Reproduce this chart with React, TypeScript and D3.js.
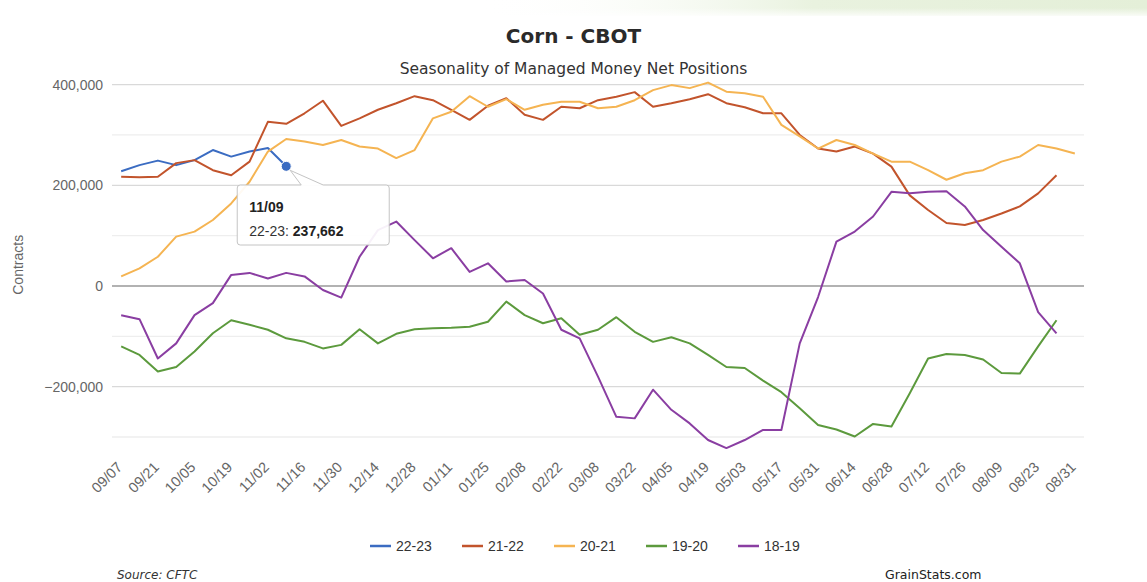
import React from "react"
import * as d3 from "d3"

// weekly categories, 09/07 .. 08/31
const categories = [
  "09/07", "09/14", "09/21", "09/28", "10/05", "10/12", "10/19", "10/26",
  "11/02", "11/09", "11/16", "11/23", "11/30", "12/07", "12/14", "12/21",
  "12/28", "01/04", "01/11", "01/18", "01/25", "02/01", "02/08", "02/15",
  "02/22", "03/01", "03/08", "03/15", "03/22", "03/29", "04/05", "04/12",
  "04/19", "04/26", "05/03", "05/10", "05/17", "05/24", "05/31", "06/07",
  "06/14", "06/21", "06/28", "07/05", "07/12", "07/19", "07/26", "08/02",
  "08/09", "08/16", "08/23", "08/30", "08/31",
]

// values in thousands of contracts
const s2223 = [228, 240, 249, 240, 250, 270, 257, 267, 274, 237.662]
const s2122 = [
  217, 216, 217, 244, 250, 230, 220, 247, 326, 322, 343, 368, 318, 333, 350, 363,
  377, 369, 350, 330, 358, 373, 340, 330, 356, 353, 369, 376, 385, 356, 363, 371,
  381, 363, 355, 343, 343, 300, 273, 267, 277, 263, 237, 180, 151, 125, 121, 131,
  144, 158, 184, 220,
]
const s2021 = [
  19, 35, 58, 98, 108, 131, 164, 207, 267, 292, 287, 280, 290, 277, 273, 254,
  270, 333, 346, 377, 356, 371, 350, 360, 366, 366, 353, 356, 369, 389, 399, 393,
  404, 386, 383, 376, 320, 297, 273, 290, 280, 263, 247, 247, 230, 211, 224, 230,
  247, 257, 280, 273, 263,
]
const s1920 = [
  -120, -137, -170, -161, -130, -94, -68, -77, -87, -104, -111, -124, -117, -86, -114, -95,
  -86, -84, -83, -81, -71, -31, -58, -74, -64, -97, -87, -62, -91, -111, -102, -114,
  -137, -161, -163, -188, -211, -243, -276, -285, -299, -274, -279, -213, -144, -135, -137, -146,
  -173, -174, -120, -68,
]
const s1819 = [
  -58, -66, -144, -114, -58, -34, 22, 26, 15, 26, 19, -8, -23, 58, 111, 128,
  91, 55, 75, 28, 45, 9, 12, -15, -87, -104, -180, -260, -263, -206, -246, -273,
  -306, -322, -306, -286, -286, -114, -22, 88, 108, 138, 187, 184, 187, 188, 158, 111,
  78, 45, -52, -94,
]

const seriesNames = ["22-23", "21-22", "20-21", "19-20", "18-19"]
const seriesColors = ["#3b6cc2", "#c2542c", "#f5b452", "#5c9a3d", "#8a3ea2"]
const seriesValues = [s2223, s2122, s2021, s1920, s1819]

const yTicks = [-300000, -200000, -100000, 0, 100000, 200000, 300000, 400000]

const W = 1147
const H = 582
const plot = { left: 112, right: 1084, top: 84.6, bottom: 437 }

export default function App() {
  const x = d3.scalePoint<string>()
    .domain(categories)
    .range([plot.left, plot.right])
    .padding(0.5)
  const y = d3.scaleLinear().domain([-300000, 400000]).range([plot.bottom, plot.top])

  const series = seriesNames.map((name, i) => ({
    name,
    color: seriesColors[i],
    data: seriesValues[i].map((v, j) => ({ cat: categories[j], value: v * 1000 })),
  }))

  const line = d3.line<{ cat: string; value: number }>()
    .x(d => x(d.cat) as number)
    .y(d => y(d.value))

  const fmt = d3.format(",")
  const labelCats = categories.filter((_, i) => i % 2 === 0)

  // tooltip on the last 22-23 point
  const tipSeries = series[0]
  const tipPoint = tipSeries.data[tipSeries.data.length - 1]
  const px = x(tipPoint.cat) as number
  const py = y(tipPoint.value)
  const bx = px - 49, by = 185, bw = 152, bh = 60

  // legend
  const itemW = 92
  const legendStart = 370

  return (
    <div style={{ position: "absolute", left: 0, top: 0 }}>
      <svg width={W} height={H} style={{ display: "block", background: "#fff" }}>
        <defs>
          <linearGradient id="topband" x1="0" x2="1" y1="0" y2="0">
            <stop offset="0" stopColor="#ffffff" stopOpacity={0} />
            <stop offset="0.5" stopColor="#e9f2df" />
            <stop offset="1" stopColor="#e4efd8" />
          </linearGradient>
          <linearGradient id="topfade" x1="0" x2="0" y1="0" y2="1">
            <stop offset="0" stopColor="#fff" stopOpacity={0} />
            <stop offset="1" stopColor="#fff" stopOpacity={1} />
          </linearGradient>
        </defs>
        <rect x={480} y={0} width={W - 480} height={16} fill="url(#topband)" />
        <rect x={480} y={8} width={W - 480} height={10} fill="url(#topfade)" />

        <text x={W / 2} y={43} textAnchor="middle" fontFamily="DejaVu Sans" fontWeight="bold" fontSize={20} fill="#2a2a2a">
          Corn - CBOT
        </text>
        <text x={W / 2} y={74} textAnchor="middle" fontFamily="DejaVu Sans" fontSize={15.5} fill="#333">
          Seasonality of Managed Money Net Positions
        </text>

        {/* grid */}
        {yTicks.map(t => (
          <line
            key={t}
            x1={plot.left}
            x2={plot.right}
            y1={y(t)}
            y2={y(t)}
            stroke={t === 0 ? "#999" : t % 200000 === 0 ? "#d9d9d9" : "#eeeeee"}
            strokeWidth={t === 0 ? 1.5 : 1.3}
          />
        ))}
        {yTicks.filter(t => t % 200000 === 0).map(t => (
          <text
            key={t}
            x={103}
            y={y(t) + 5}
            textAnchor="end"
            fontFamily="Liberation Sans"
            fontSize={14}
            fill="#666"
          >
            {fmt(t)}
          </text>
        ))}
        <text
          transform={`translate(23,${(plot.top + plot.bottom) / 2 + 4}) rotate(-90)`}
          textAnchor="middle"
          fontFamily="Liberation Sans"
          fontSize={14}
          fill="#666"
        >
          Contracts
        </text>

        {/* x labels */}
        {labelCats.map(c => {
          const lx = (x(c) as number) + 2
          const ly = 468
          return (
            <text
              key={c}
              x={lx}
              y={ly}
              transform={`rotate(-45,${lx},${ly})`}
              textAnchor="end"
              fontFamily="Liberation Sans"
              fontSize={14.5}
              fill="#666"
            >
              {c}
            </text>
          )
        })}

        {/* lines */}
        {series.map(s => (
          <path
            key={s.name}
            d={line(s.data) || ""}
            fill="none"
            stroke={s.color}
            strokeWidth={2}
            strokeLinejoin="round"
          />
        ))}

        {/* hovered point + tooltip */}
        <circle cx={px} cy={py} r={5} fill={tipSeries.color} stroke="#fff" strokeWidth={1} />
        <path
          d={`M${bx + 3},${by} L${px + 15},${by} L${px + 4},${py + 4} L${px + 37},${by} L${bx + bw - 3},${by}
            Q${bx + bw},${by} ${bx + bw},${by + 3} L${bx + bw},${by + bh - 3} Q${bx + bw},${by + bh} ${bx + bw - 3},${by + bh}
            L${bx + 3},${by + bh} Q${bx},${by + bh} ${bx},${by + bh - 3} L${bx},${by + 3} Q${bx},${by} ${bx + 3},${by} Z`}
          fill="#fff"
          fillOpacity={0.93}
          stroke="#c4c4c4"
          strokeWidth={1}
        />
        <text x={bx + 12} y={by + 27} fontFamily="Liberation Sans" fontSize={14} fontWeight="bold" fill="#222">
          {tipPoint.cat}
        </text>
        <text x={bx + 12} y={by + 51} fontFamily="Liberation Sans" fontSize={14} fill="#333">
          {tipSeries.name}: <tspan fontWeight="bold" fill="#222">{fmt(Math.round(tipPoint.value))}</tspan>
        </text>

        {/* legend */}
        {series.map((s, i) => {
          const lx = legendStart + i * itemW
          return (
            <g key={s.name}>
              <line x1={lx} x2={lx + 21} y1={546} y2={546} stroke={s.color} strokeWidth={2.5} />
              <text x={lx + 26} y={551} fontFamily="Liberation Sans" fontSize={14} fill="#333">
                {s.name}
              </text>
            </g>
          )
        })}

        <text x={117} y={579} fontFamily="DejaVu Sans" fontStyle="italic" fontSize={12} fill="#333">
          Source: CFTC
        </text>
        <text x={885} y={579} fontFamily="DejaVu Sans" fontSize={12.5} fill="#222">
          GrainStats.com
        </text>
      </svg>
    </div>
  )
}
